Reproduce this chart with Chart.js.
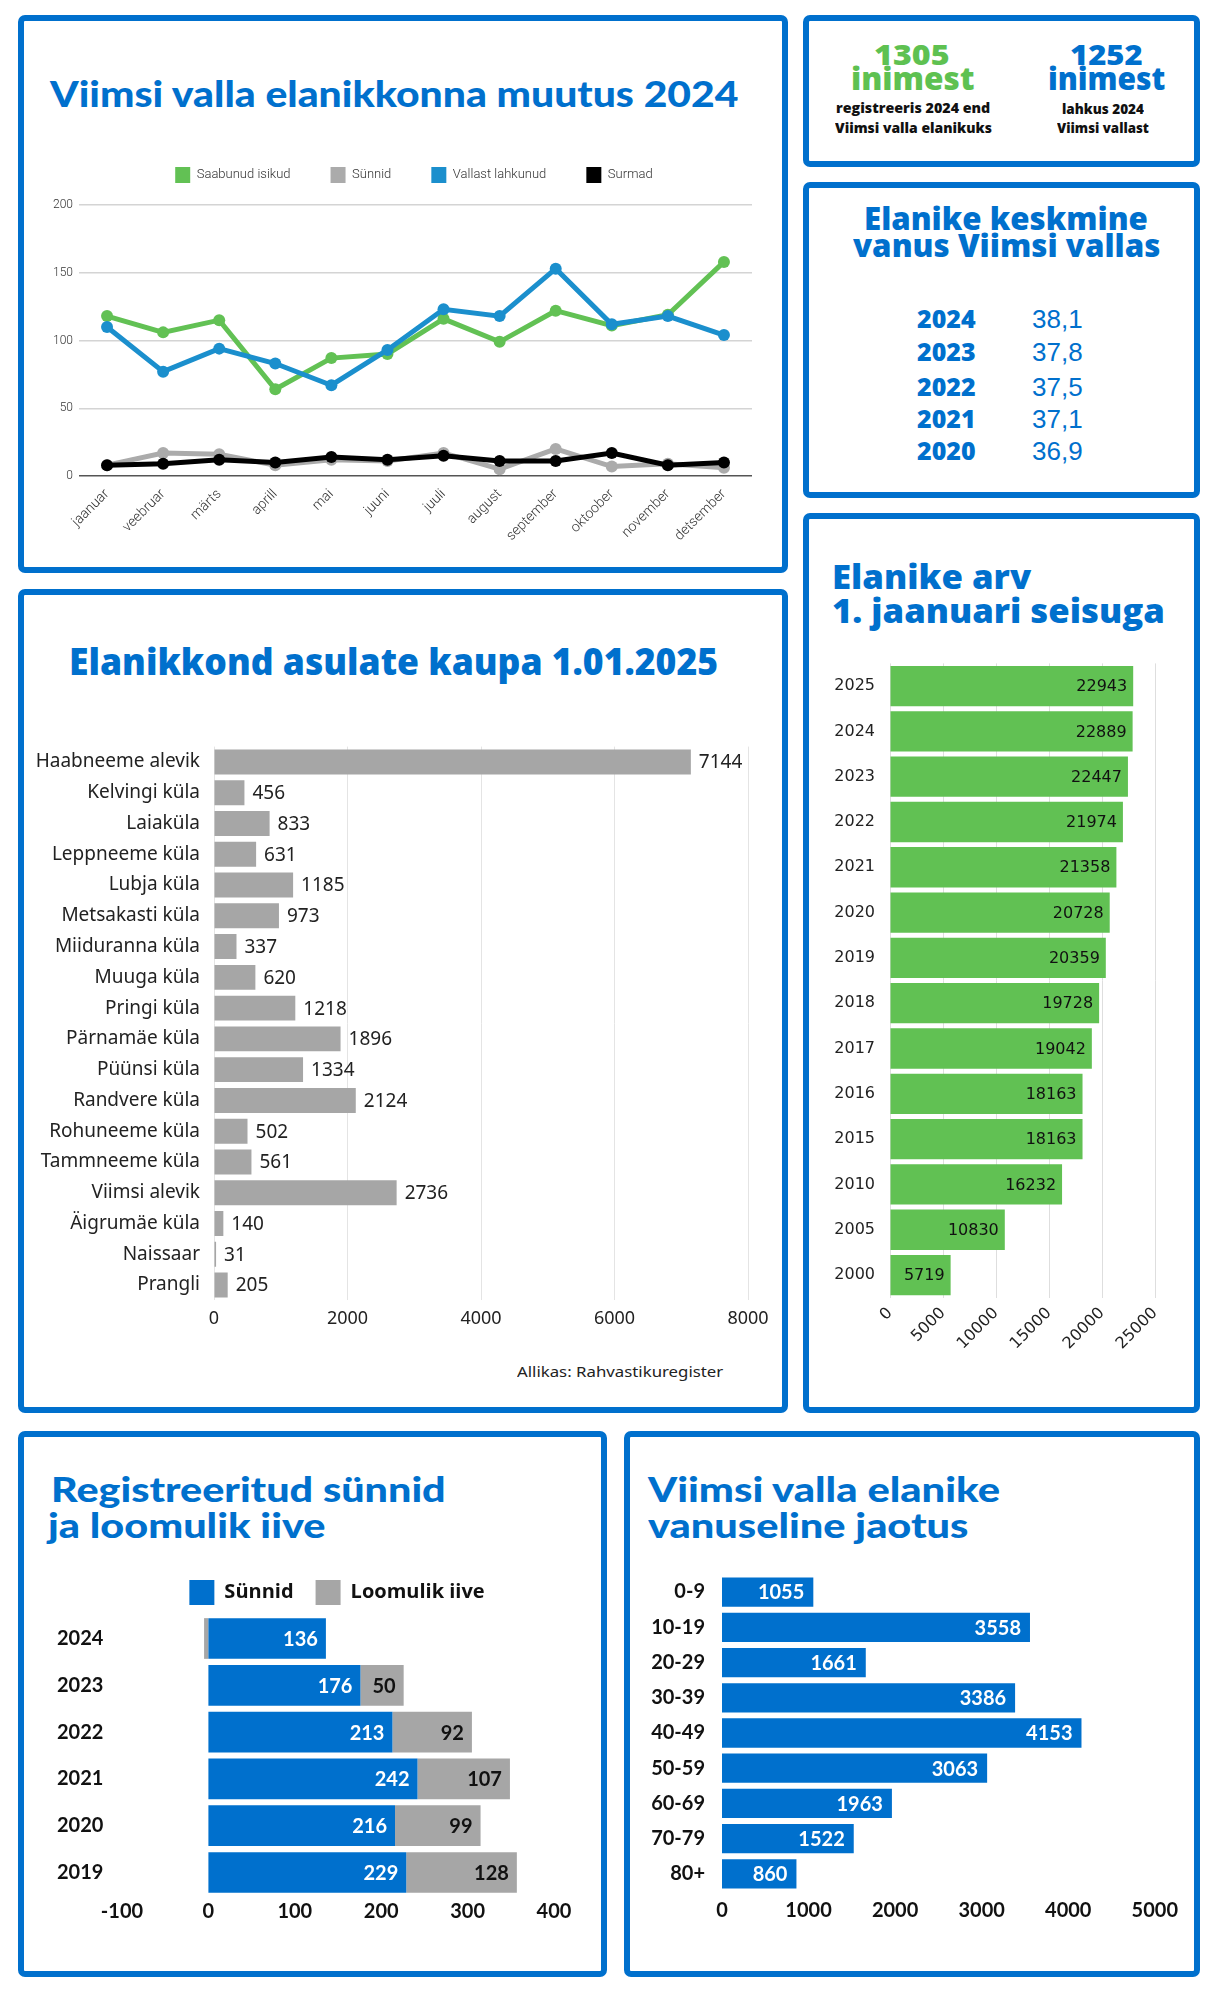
<!DOCTYPE html>
<html><head><meta charset="utf-8">
<script src="https://cdn.jsdelivr.net/npm/chart.js@4.4.1/dist/chart.umd.min.js"></script>
<style>
html,body{margin:0;padding:0;background:#fff;}
body{width:1220px;height:2000px;position:relative;overflow:hidden;}
.panel{position:absolute;box-sizing:border-box;border:6px solid #0070cd;border-radius:7px;}
.t{position:absolute;white-space:nowrap;line-height:1;transform-origin:0 0;}
.c{position:absolute;}
</style></head><body>
<div class="panel" style="left:18px;top:15px;width:770px;height:558px"></div>
<div class="panel" style="left:803px;top:15px;width:397px;height:152px"></div>
<div class="panel" style="left:803px;top:182px;width:397px;height:316px"></div>
<div class="panel" style="left:18px;top:589px;width:770px;height:824px"></div>
<div class="panel" style="left:803px;top:513px;width:397px;height:900px"></div>
<div class="panel" style="left:18px;top:1431px;width:589px;height:546px"></div>
<div class="panel" style="left:624px;top:1431px;width:576px;height:546px"></div>

<div class="c" style="left:30px;top:127px;width:740px;height:435px"><canvas id="c1"></canvas></div>
<div class="c" style="left:20px;top:730px;width:760px;height:600px"><canvas id="c4"></canvas></div>
<div class="c" style="left:815px;top:650px;width:375px;height:750px"><canvas id="c5"></canvas></div>
<div class="c" style="left:30px;top:1557.5px;width:580px;height:377.5px"><canvas id="c6"></canvas></div>
<div class="c" style="left:640px;top:1562px;width:545px;height:370px"><canvas id="c7"></canvas></div>

<script>
// ---------- DATA ----------
const months = ['jaanuar','veebruar','märts','aprill','mai','juuni','juuli','august','september','oktoober','november','detsember'];
const arrivals = [118,106,115,64,87,90,116,99,122,111,119,158];
const birthsMonthly = [8,17,16,8,12,11,17,5,20,7,9,6];
const departures = [110,77,94,83,67,93,123,118,153,112,118,104];
const deathsMonthly = [8,9,12,10,14,12,15,11,11,17,8,10];

const statArrived = 1305;
const statLeft = 1252;

const avgAgeYears = ['2024','2023','2022','2021','2020'];
const avgAgeValues = ['38,1','37,8','37,5','37,1','36,9'];

const settlements = ['Haabneeme alevik','Kelvingi küla','Laiaküla','Leppneeme küla','Lubja küla','Metsakasti küla','Miiduranna küla','Muuga küla','Pringi küla','Pärnamäe küla','Püünsi küla','Randvere küla','Rohuneeme küla','Tammneeme küla','Viimsi alevik','Äigrumäe küla','Naissaar','Prangli'];
const settlementPop = [7144,456,833,631,1185,973,337,620,1218,1896,1334,2124,502,561,2736,140,31,205];

const popYears = ['2025','2024','2023','2022','2021','2020','2019','2018','2017','2016','2015','2010','2005','2000'];
const popValues = [22943,22889,22447,21974,21358,20728,20359,19728,19042,18163,18163,16232,10830,5719];

const birthYears = ['2024','2023','2022','2021','2020','2019'];
const births = [136,176,213,242,216,229];
const naturalIncrease = [-5,50,92,107,99,128];

const ageGroups = ['0-9','10-19','20-29','30-39','40-49','50-59','60-69','70-79','80+'];
const ageCounts = [1055,3558,1661,3386,4153,3063,1963,1522,860];

// ---------- STYLE ----------
const BLUE = '#0070cd', GREEN = '#5ec151', GRAY = '#a6a6a6';
const KB = {'Lato':0.887,'Open Sans':0.888,'Noto Sans':0.888,'Liberation Sans':0.846,'DejaVu Sans':0.846};

const texts = [
 {s:'Viimsi valla elanikkonna muutus 2024', x:50, b:107, size:36, f:'Lato', wt:900, c:BLUE, w:689},
 {s:String(statArrived), cx:912, b:65, size:28, f:'Open Sans', wt:800, c:GREEN, w:76},
 {s:'inimest', cx:912, b:91, size:31, f:'Open Sans', wt:800, c:GREEN, w:123},
 {s:'registreeris 2024 end', cx:913, b:113, size:14, f:'Open Sans', wt:800, c:'#111', w:154},
 {s:'Viimsi valla elanikuks', cx:913, b:133, size:14, f:'Open Sans', wt:800, c:'#111', w:157},
 {s:String(statLeft), cx:1106, b:65, size:28, f:'Open Sans', wt:800, c:BLUE, w:73},
 {s:'inimest', cx:1106, b:91, size:31, f:'Open Sans', wt:800, c:BLUE, w:117},
 {s:'lahkus 2024', cx:1103, b:114, size:14, f:'Open Sans', wt:800, c:'#111', w:82},
 {s:'Viimsi vallast', cx:1103, b:133, size:14, f:'Open Sans', wt:800, c:'#111', w:92},
 {s:'Elanike keskmine', cx:1006, b:231, size:31, f:'Open Sans', wt:800, c:BLUE, w:284},
 {s:'vanus Viimsi vallas', cx:1006, b:258, size:31, f:'Open Sans', wt:800, c:BLUE, w:307},
 {s:'Elanikkond asulate kaupa 1.01.2025', x:69, b:675, size:37, f:'Open Sans', wt:800, c:BLUE, w:649},
 {s:'Allikas: Rahvastikuregister', x:517, b:1377, size:15, f:'Noto Sans', wt:400, c:'#222', w:206},
 {s:'Elanike arv', x:832, b:589, size:33, f:'Open Sans', wt:800, c:BLUE, w:199},
 {s:'1. jaanuari seisuga', x:832, b:623, size:33, f:'Open Sans', wt:800, c:BLUE, w:333},
 {s:'Registreeritud sünnid', x:51, b:1502, size:35, f:'Lato', wt:900, c:BLUE, w:395},
 {s:'ja loomulik iive', x:48, b:1538, size:35, f:'Lato', wt:900, c:BLUE, w:277},
 {s:'Viimsi valla elanike', x:648, b:1502, size:35, f:'Lato', wt:900, c:BLUE, w:352},
 {s:'vanuseline jaotus', x:648, b:1538, size:35, f:'Lato', wt:900, c:BLUE, w:320}
];
const ageBase = [328,361,396,428,460];
avgAgeYears.forEach((y,i)=>{
  texts.push({s:y, x:917, b:ageBase[i], size:25, f:'Open Sans', wt:800, c:BLUE});
  texts.push({s:avgAgeValues[i], x:1032, b:ageBase[i], size:26, f:'Liberation Sans', wt:400, c:BLUE});
});

const made = [];
texts.forEach(t=>{
  const el = document.createElement('div');
  el.className = 't';
  el.textContent = t.s;
  el.style.fontFamily = '"'+t.f+'", sans-serif';
  el.style.fontWeight = t.wt;
  el.style.fontSize = t.size+'px';
  el.style.color = t.c;
  el.style.top = (t.b - KB[t.f]*t.size)+'px';
  el.style.left = (t.x !== undefined ? t.x : t.cx - (t.w||0)/2)+'px';
  document.body.appendChild(el);
  made.push([el,t]);
});
function fit(){
  made.forEach(([el,t])=>{
    if(!t.w) return;
    const w = el.offsetWidth;
    if(w>0) el.style.transform = 'scaleX('+(t.w/w)+')';
  });
}
fit();
if (document.fonts && document.fonts.ready) document.fonts.ready.then(fit);

// ---------- PLUGINS ----------
const legendFix = {
  id:'legendFix',
  beforeLayout(chart){
    const o = chart.options.plugins.legendFix;
    const l = chart.legend;
    if(!o || !l || l._fixed) return;
    const orig = l.fit;
    l.fit = function(){ orig.call(this); this.height = o.height; };
    l._fixed = true;
  },
  afterLayout(chart){
    const o = chart.options.plugins.legendFix;
    const l = chart.legend;
    if(!o || !l || o.center === undefined) return;
    const dx = o.center - (l.left + l.right)/2;
    l.left += dx; l.right += dx;
  }
};
const barLabels = {
  id:'barLabels',
  afterDatasetsDraw(chart){
    const ctx = chart.ctx;
    chart.data.datasets.forEach((ds,di)=>{
      const lab = ds.valueLabels; if(!lab) return;
      const meta = chart.getDatasetMeta(di);
      meta.data.forEach((el,i)=>{
        const v = ds.data[i];
        if(lab.min !== undefined && v < lab.min) return;
        ctx.save();
        ctx.font = lab.font;
        ctx.fillStyle = lab.color;
        ctx.textBaseline = 'middle';
        let x;
        if(lab.pos === 'outside'){ ctx.textAlign='left'; x = el.x + lab.offset; }
        else { ctx.textAlign='right'; x = el.x - lab.offset; }
        ctx.fillText(String(v), x, el.y + (lab.dy||0));
        ctx.restore();
      });
    });
  }
};

Chart.defaults.animation = false;
Chart.defaults.responsive = true;
Chart.defaults.maintainAspectRatio = false;
Chart.defaults.plugins.tooltip.enabled = false;
Chart.defaults.font.family = 'Lato, sans-serif';
const plain = v => String(v);

// ---------- CHART 1: line ----------
const lightFont = {size:13, family:'Roboto, sans-serif', weight:'300'};
new Chart(document.getElementById('c1'), {
  type:'line',
  data:{labels:months, datasets:[
    {label:'Saabunud isikud', data:arrivals, borderColor:'#62c154', backgroundColor:'#62c154', order:4},
    {label:'Sünnid', data:birthsMonthly, borderColor:'#ababab', backgroundColor:'#ababab', order:3},
    {label:'Vallast lahkunud', data:departures, borderColor:'#1b8fcd', backgroundColor:'#1b8fcd', order:2},
    {label:'Surmad', data:deathsMonthly, borderColor:'#000000', backgroundColor:'#000000', order:1}
  ]},
  options:{
    layout:{padding:{left:0,right:18,top:0,bottom:0}},
    elements:{line:{borderWidth:5, tension:0}, point:{radius:6, borderWidth:0, hoverRadius:6}},
    plugins:{
      legend:{labels:{boxWidth:15, boxHeight:16, padding:40, font:lightFont, color:'#333',
        sort:(a,b)=>a.datasetIndex-b.datasetIndex,
        generateLabels:(chart)=>Chart.defaults.plugins.legend.labels.generateLabels(chart).map(l=>Object.assign(l,{lineWidth:0}))}},
      legendFix:{height:78, center:384}
    },
    scales:{
      x:{offset:true, grid:{display:false, drawTicks:false}, border:{display:false},
         ticks:{minRotation:45, maxRotation:45, padding:10, font:{size:14, family:'Roboto, sans-serif', weight:'300'}, color:'#333', autoSkip:false},
         afterFit:s=>{s.height=86;}},
      y:{min:0, max:200, border:{display:false},
         ticks:{stepSize:50, padding:6, font:{size:12, family:'Roboto, sans-serif', weight:'300'}, color:'#333'},
         grid:{drawTicks:false, lineWidth:1.5, color:c=>(c.tick && c.tick.value===0)?'#555':'#d4d4d4'},
         afterFit:s=>{s.width=49;}}
    }
  },
  plugins:[legendFix]
});

// ---------- CHART 4: settlements ----------
new Chart(document.getElementById('c4'), {
  type:'bar',
  data:{labels:settlements, datasets:[{data:settlementPop, backgroundColor:GRAY, borderWidth:0,
    barPercentage:0.81, categoryPercentage:1,
    valueLabels:{pos:'outside', offset:8, font:'19px "Noto Sans"', color:'#222', dy:1}}]},
  options:{
    indexAxis:'y',
    layout:{padding:{left:0,right:32,top:16.6,bottom:0}},
    plugins:{legend:{display:false}},
    scales:{
      x:{min:0, max:8000, border:{display:false},
         grid:{drawTicks:false, color:'#e4e4e4', lineWidth:1},
         ticks:{stepSize:2000, padding:8, callback:plain, font:{size:18, family:'"Noto Sans", sans-serif'}, color:'#222'},
         afterFit:s=>{s.height=29.6;}},
      y:{grid:{display:false, tickLength:14}, border:{display:false},
         ticks:{padding:0, font:{size:19, family:'"Noto Sans", sans-serif'}, color:'#222', autoSkip:false},
         afterFit:s=>{s.width=194;}}
    }
  },
  plugins:[barLabels]
});

// ---------- CHART 5: population by year ----------
new Chart(document.getElementById('c5'), {
  type:'bar',
  data:{labels:popYears, datasets:[{data:popValues, backgroundColor:'#61c153', borderWidth:0,
    barPercentage:0.89, categoryPercentage:1,
    valueLabels:{pos:'inside', offset:6, font:'16px "DejaVu Sans"', color:'#111', dy:1}}]},
  options:{
    indexAxis:'y',
    layout:{padding:{left:0,right:35,top:13.4,bottom:0}},
    plugins:{legend:{display:false}},
    scales:{
      x:{min:0, max:25000, border:{display:false},
         grid:{drawTicks:false, color:'#dedede', lineWidth:1},
         ticks:{stepSize:5000, minRotation:45, maxRotation:45, padding:6, callback:plain,
                font:{size:16, family:'"DejaVu Sans", sans-serif'}, color:'#222'},
         afterFit:s=>{s.height=102.3;}},
      y:{grid:{display:false, tickLength:15}, border:{display:false},
         ticks:{padding:0, font:{size:16, family:'"DejaVu Sans", sans-serif'}, color:'#222', autoSkip:false},
         afterFit:s=>{s.width=75;}}
    }
  },
  plugins:[barLabels]
});

// ---------- CHART 6: births & natural increase ----------
const boldFont = {size:20, family:'Lato, sans-serif', weight:'700'};
new Chart(document.getElementById('c6'), {
  type:'bar',
  data:{labels:birthYears, datasets:[
    {label:'Sünnid', data:births, backgroundColor:BLUE, borderWidth:0, barPercentage:0.87, categoryPercentage:1,
     valueLabels:{pos:'inside', offset:8, font:'700 20px Lato', color:'#ffffff', dy:1}},
    {label:'Loomulik iive', data:naturalIncrease, backgroundColor:GRAY, borderWidth:0, barPercentage:0.87, categoryPercentage:1,
     valueLabels:{pos:'inside', offset:8, font:'700 20px Lato', color:'#111111', min:0, dy:1}}
  ]},
  options:{
    indexAxis:'y',
    layout:{padding:{left:27,right:56,top:0,bottom:0}},
    plugins:{
      legend:{labels:{boxWidth:25, boxHeight:25, padding:22, font:{size:20, family:'"Open Sans", sans-serif', weight:'700'}, color:'#111'}},
      legendFix:{height:57.1, center:307}
    },
    scales:{
      x:{stacked:true, min:-100, max:400, grid:{display:false, drawTicks:false}, border:{display:false},
         ticks:{stepSize:100, padding:4, font:boldFont, color:'#111'},
         afterFit:s=>{s.height=39.6;}},
      y:{stacked:true, grid:{display:false}, border:{display:false},
         ticks:{crossAlign:'far', font:boldFont, color:'#111'},
         afterFit:s=>{s.width=65;}}
    }
  },
  plugins:[legendFix, barLabels]
});

// ---------- CHART 7: age distribution ----------
new Chart(document.getElementById('c7'), {
  type:'bar',
  data:{labels:ageGroups, datasets:[{data:ageCounts, backgroundColor:BLUE, borderWidth:0,
    barPercentage:0.83, categoryPercentage:1,
    valueLabels:{pos:'inside', offset:9, font:'700 20px Lato', color:'#ffffff', dy:1}}]},
  options:{
    indexAxis:'y',
    layout:{padding:{left:0,right:30,top:12.4,bottom:0}},
    plugins:{legend:{display:false}},
    scales:{
      x:{min:0, max:5000, grid:{display:false, drawTicks:false}, border:{display:false},
         ticks:{stepSize:1000, padding:7, callback:plain, font:boldFont, color:'#111'},
         afterFit:s=>{s.height=40.4;}},
      y:{grid:{display:false, tickLength:17}, border:{display:false},
         ticks:{padding:0, font:boldFont, color:'#111', autoSkip:false},
         afterFit:s=>{s.width=82;}}
    }
  },
  plugins:[barLabels]
});
</script>
</body></html>
